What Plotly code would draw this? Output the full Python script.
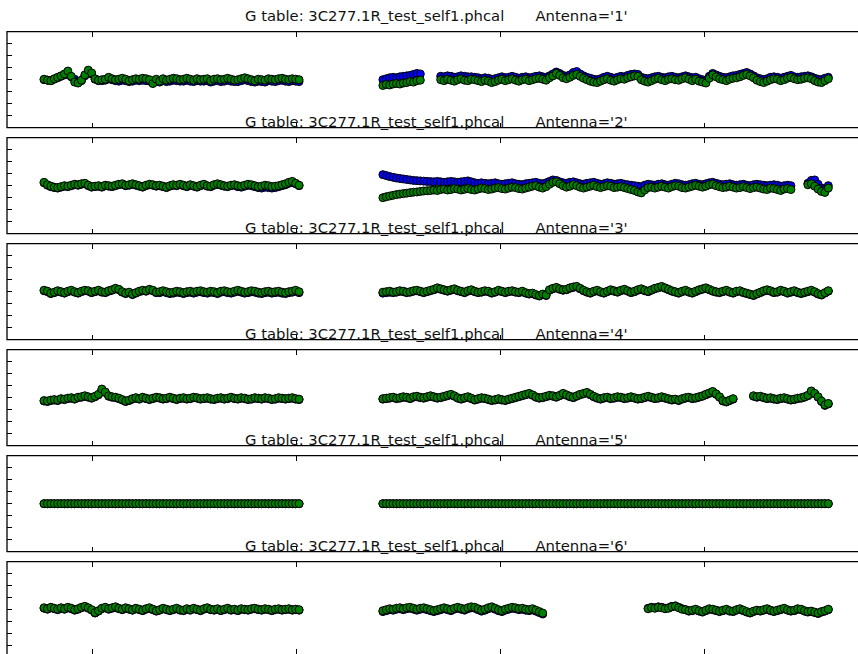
import numpy as np
import plotly.graph_objects as go

W, H = 858, 654

TABLE = "3C277.1R_test_self1.phcal"
ANTENNAS = ["1", "2", "3", "4", "5", "6"]

# time axis (hours), one solution per minute
SOLINT = 1.0 / 60.0
X_TICKS = [2, 3, 4, 5]
Y_TICKS = [-150, -100, -50, 0, 50, 100, 150]
Y_RANGE = [-200, 200]

# ---------------- Antenna 1 ----------------
a1_green_A = [2, -2, -4, 4, 10, 16, 24, 36, 14, -10,
              -14, -2, 20, 40, 28, 4, -2, 0, 2, 10,
              4, 0, 2, 6, 2, -4, 0, 4, 2, 6,
              4, 0, -16, 2, -6, 4, -2, 2, 6, 4,
              0, 2, 6, 2, -2, 4, 0, 2, 4, -4,
              2, 4, 0, 2, 6, 2, -2, 0, 4, 8,
              4, 0, -4, 2, 0, -2, 4, 2, 0, 4,
              6, 2, 0, 4, 2, 0]
a1_blue_A = [0, -2, -4, 2, 8, 14, 20, 28, 12, 2,
             -8, -4, 16, 32, 24, 2, -4, -4, -2, 4,
             0, -4, -6, -2, -4, -8, -6, -2, -4, -2,
             -4, -6, -14, -6, -10, -4, -8, -6, -2, -4,
             -6, -6, -2, -6, -8, -4, -6, -6, -4, -10,
             -6, -4, -8, -6, -2, -6, -8, -8, -4, 0,
             -4, -8, -10, -6, -8, -10, -4, -6, -8, -4,
             -2, -6, -8, -4, -6, -8]
a1_green_B1 = [-24, -20, -22, -18, -16, -18, -14, -12, -8, -10, -4, -2]
a1_blue_B1 = [0, 4, 8, 10, 8, 12, 14, 16, 18, 22, 26, 24]
a1_green_B2 = [0, -4, 2, -2, -6, 0, 4, -2, -4, 2,
               0, -4, -8, -2, -6, -12, -8, -2, 2, -4,
               0, 4, -2, -6, 0, 2, -4, 0, 4, 6,
               2, -2, 8, 16, 26, 18, 8, 4, 10, 18,
               22, 14, 6, 0, -6, -10, -12, -6, 0, 4,
               -2, -6, 0, 4, 2, 8, 12, 16, 14, 0,
               -6, -10, -4, 2, 6, 0, -4, 2, 4, 0,
               -2, 4, 8, 2, -4, 2, -6, -10, -14, 6,
               20, 12, 4, 0, -4, 2, 6, 8, 12, 18,
               22, 16, 8, -2, -8, -12, -6, 0, 4, 2,
               -4, 0, 6, 10, 4, 0, 2, 6, 8, 4,
               -4, -10, -12, -4, 4]
a1_blue_B2 = [14, 12, 16, 14, 10, 12, 16, 14, 12, 12,
              10, 8, 4, 8, 6, 2, 4, 8, 12, 8,
              10, 14, 10, 6, 10, 12, 8, 10, 14, 16,
              12, 10, 16, 24, 32, 26, 18, 14, 20, 30,
              34, 24, 16, 10, 6, 2, 0, 4, 10, 14,
              10, 6, 10, 14, 12, 18, 22, 24, 22, 10,
              6, 4, 8, 12, 14, 10, 8, 12, 14, 10,
              8, 12, 16, 12, 8, 10, 4, 0, -2, 14,
              26, 20, 14, 10, 8, 12, 16, 18, 22, 26,
              30, 24, 16, 8, 4, 0, 4, 10, 12, 10,
              6, 10, 14, 18, 12, 10, 12, 14, 16, 12,
              6, 2, 0, 6, 10]

# ---------------- Antenna 2 ----------------
a2_green_A = [14, 4, -2, -6, -8, -4, 0, -2, 2, 6,
              4, 8, 10, 2, -4, -2, 0, -4, 2, 0,
              -2, 2, 6, 8, 2, 4, 8, 4, 0, -4,
              2, 6, 4, 0, 2, -2, -6, 0, 4, 2,
              6, 2, -2, 4, 0, -4, 2, 6, 0, -2,
              4, 8, 4, 0, -2, 2, 4, 0, -2, 2,
              6, 4, 0, -4, -2, 2, 0, -4, -2, 0,
              4, 8, 14, 18, 10, 2]
a2_blue_A = [12, 2, -4, -8, -10, -6, -2, -4, 0, 4,
             2, 6, 8, 0, -6, -4, -2, -6, 0, -2,
             -4, 0, 4, 6, 0, 2, 6, 2, -2, -6,
             0, 4, 2, -2, 0, -4, -8, -2, 2, 0,
             4, 0, -4, 2, -2, -6, 0, 4, -2, -4,
             2, 6, 2, -2, -4, 0, 2, -4, -6, -2,
             2, 0, -4, -8, -10, -6, -8, -10, -8, -4,
             0, 4, 10, 14, 8, 0]
a2_green_B1 = [-50, -46, -43, -40, -37, -35, -33, -31, -29, -27,
               -26, -24, -22, -21, -20, -18, -20, -16, -14, -18,
               -16, -12, -14, -18, -15, -12, -16, -18, -14, -10,
               -12, -16, -14, -10, -8, -12, -14, -10, -6, -8,
               -12, -14, -10, -6, -2, 0, -6, -10, -4, 6,
               14, 16, 8, 0, -6, -2, 4, 0, -6, -10,
               -6, -2, 2, -4, -8, -4, 0, -2, -8, -6,
               -4, -8, -12, -16, -20, -26, -30, -18, -8, -6,
               -10, -6, -2, -6, -10, -4, 0, -2, -8, -10,
               -6, -2, 2, -2, -6, -2, 4, 6, 0, -4,
               -8, -6, -2, -6, -10, -8, -4, -8, -12, -8,
               -6, -10, -14, -16, -10, -12, -16, -20, -14, -12,
               -16]
a2_blue_B1 = [46, 42, 38, 35, 32, 30, 28, 26, 24, 22,
              21, 20, 19, 18, 17, 16, 18, 16, 14, 16,
              18, 16, 14, 16, 18, 20, 16, 12, 10, 12,
              10, 8, 10, 12, 8, 6, 8, 10, 12, 8,
              6, 4, 8, 10, 12, 14, 10, 8, 12, 18,
              24, 22, 16, 12, 10, 14, 16, 12, 8, 6,
              10, 12, 14, 10, 6, 8, 12, 10, 6, 8,
              10, 6, 4, 2, 0, -2, -4, 2, 6, 4,
              2, 6, 8, 4, 2, 6, 10, 8, 4, 2,
              4, 8, 10, 6, 4, 8, 12, 14, 10, 6,
              4, 6, 8, 4, 2, 4, 6, 2, 0, 4,
              6, 4, 2, 0, 2, 4, 2, -2, 0, 2,
              0]
a2_green_B2 = [4, 8, -2, -14, -24, -28, -10]
a2_blue_B2 = [10, 22, 24, 6, -10, -14, 0]

# ---------------- Antenna 3 ----------------
a3_green_A = [6, 2, -6, -2, 4, 0, -4, 2, 6, 0,
              -4, 2, 6, 4, -2, 2, 6, 0, -2, 4,
              8, 14, 10, 0, -6, -2, -10, -4, 2, 6,
              4, 10, 6, -2, 0, 4, 0, -4, -2, 2,
              0, -4, 0, 2, -2, 2, 4, 0, -2, 2,
              0, -4, 2, 4, 0, -2, 2, 6, 2, -2,
              0, 4, 2, -2, -4, 0, 2, -2, 0, 2,
              -2, -4, 0, 2, 6, 0]
a3_blue_A = [4, 0, -8, -4, 2, -2, -6, 0, 4, -2,
             -6, 0, 4, 2, -4, 0, 4, -2, -4, 2,
             6, 12, 8, -2, -8, -4, -12, -6, 0, 4,
             2, 8, 4, -4, -4, 0, -4, -8, -6, -2,
             -4, -8, -4, -2, -6, -2, 0, -4, -6, -2,
             -4, -8, -2, 0, -4, -6, -2, 2, -2, -6,
             -4, 0, -2, -6, -8, -4, -2, -6, -4, -2,
             -6, -8, -4, -2, 2, -4]
a3_green_B = [-2, 0, 2, -2, 0, 4, 2, -2, 0, 4,
              6, 2, -2, 2, 6, 10, 16, 12, 8, 4,
              8, 12, 6, 2, -2, 4, 8, 2, -2, 0,
              4, 2, -4, 0, 6, 2, -2, 2, 4, 0,
              -2, 2, -4, -8, -6, -12, -16, -10, -14, 8,
              14, 18, 12, 8, 10, 16, 20, 22, 14, 6,
              0, -4, 2, 6, 0, -4, 2, 8, 4, 0,
              6, 10, 4, -2, 2, 8, 12, 6, 2, 8,
              14, 18, 22, 16, 10, 4, 0, -4, 2, 6,
              0, -4, 2, 8, 12, 16, 10, 4, 0, -2,
              2, 6, 0, -4, 2, 4, -2, -6, -10, -14,
              -8, -2, 4, 8, 4, -2, 0, 6, 2, -4,
              0, 4, -2, -6, -2, 2, 6, 0, -8, -12,
              -4, 4]
a3_blue_B = [-6, -4, -2, -4, -2, 2, 0, -4, -2, 2,
             4, 0, -4, 0, 4, 8, 14, 10, 6, 2,
             6, 10, 4, 0, -4, 2, 6, 0, -4, -2,
             2, 0, -6, -2, 4, 0, -4, 0, 2, -2,
             -4, 0, -6, -10, -8, -14, -18, -12, -16, 6,
             12, 16, 10, 6, 8, 14, 18, 20, 12, 4,
             -2, -6, 0, 4, -2, -6, 0, 6, 2, -2,
             4, 8, 2, -4, 0, 6, 10, 4, 0, 6,
             12, 16, 20, 14, 8, 2, -2, -6, 0, 4,
             -2, -6, 0, 6, 10, 14, 8, 2, -2, -4,
             0, 4, -2, -6, 0, 2, -4, -8, -12, -16,
             -10, -4, 2, 6, 2, -4, -2, 4, 0, -6,
             -2, 2, -4, -8, -4, 0, 4, -2, -10, -14,
             -6, 2]

# ---------------- Antenna 4 ----------------
a4_green_A = [-12, -14, -10, -8, -10, -4, -6, -2, 0, -4,
              2, 4, 8, 4, 0, 6, 14, 36, 24, 8,
              4, 2, -2, -8, -14, -10, -4, 0, -4, 2,
              -2, -6, -2, 2, 0, -4, -2, 2, -2, -6,
              -2, 0, -4, -2, 2, 0, -4, -2, 0, -4,
              -6, -2, 0, -4, -2, 2, -2, -4, 0, -2,
              -6, -4, 0, -2, -4, 0, -2, -6, -4, 0,
              -2, -4, -2, 0, -4, -6]
a4_blue_A = [-14, -16, -12, -10, -12, -6, -8, -4, -2, -6,
             0, 2, 6, 2, -2, 4, 12, 32, 22, 6,
             2, 0, -4, -10, -16, -12, -6, -2, -6, 0,
             -4, -8, -4, 0, -2, -6, -4, 0, -4, -8,
             -4, -2, -6, -4, 0, -2, -6, -4, -2, -6,
             -8, -4, -2, -6, -4, 0, -4, -6, -2, -4,
             -8, -6, -2, -4, -6, -2, -4, -8, -6, -2,
             -4, -6, -4, -2, -6, -8]
a4_green_B1 = [-4, -2, 0, 2, -2, 0, 4, 2, -2, 4,
               6, 2, 0, 4, 8, 4, 0, 2, 6, 10,
               14, 8, 0, -4, 0, 4, -2, -8, -4, 0,
               -2, -6, -10, -8, -4, -8, -10, -6, -2, 2,
               6, 10, 14, 18, 12, 4, 0, 2, 6, 10,
               8, 4, 10, 18, 12, 6, 2, 8, 14, 18,
               22, 14, 6, 0, -4, 0, 2, -2, 0, 4,
               2, -2, 0, 4, 0, -4, -2, 2, 6, 2,
               -2, 0, 4, 0, -4, -8, -6, -10, -4, 0,
               2, -2, 0, 4, 8, 14, 20, 26, 16, 4,
               -12, -16, -10, -4]
a4_blue_B1 = [-6, -4, -2, 0, -4, -2, 2, 0, -4, 2,
              4, 0, -2, 2, 6, 2, -2, 0, 4, 8,
              12, 6, -2, -6, -2, 2, -4, -10, -6, -2,
              -4, -8, -12, -10, -6, -10, -12, -8, -4, 0,
              4, 8, 12, 16, 10, 2, -2, 0, 4, 8,
              6, 2, 8, 16, 10, 4, 0, 6, 12, 16,
              20, 12, 4, -2, -6, -2, 0, -4, -2, 2,
              0, -4, -2, 2, -2, -6, -4, 0, 4, 0,
              -4, -2, 2, -2, -6, -10, -8, -12, -6, -2,
              0, -4, -2, 2, 6, 12, 18, 24, 14, 2,
              -14, -18, -12, -6]
a4_green_B2 = [8, 4, 6, 2, -2, 0, -4, -6, -2, 0,
               -4, -8, -6, -2, 0, 4, 10, 28, 18, 4,
               -14, -30, -24]
a4_blue_B2 = [6, 2, 4, 0, -4, -2, -6, -8, -4, -2,
              -6, -10, -8, -4, -2, 2, 8, 26, 16, 2,
              -16, -32, -26]

# ---------------- Antenna 5 (reference antenna: zero phase) ----------------
a5_green_A = [0] * 76
a5_blue_A = [0] * 76
a5_green_B = [0] * 132
a5_blue_B = [0] * 132

# ---------------- Antenna 6 ----------------
a6_green_A = [8, 4, 10, 6, 2, 8, 4, 10, 6, 0,
              4, 10, 14, 8, 0, -12, -4, 6, 10, 4,
              8, 12, 6, 2, 8, 4, 0, 6, 2, -2,
              4, 8, 2, -4, 0, 6, 2, -2, 2, 6,
              0, -2, 4, 0, 6, 2, -2, 4, 8, 2,
              0, 4, -2, 2, 6, 0, 2, -2, 4, 2,
              0, 4, 6, 2, 0, 4, 2, -2, 2, 4,
              0, 2, 4, 0, 2, 0]
a6_blue_A = [6, 2, 8, 4, 0, 6, 2, 8, 4, -2,
             2, 8, 12, 6, -2, -14, -6, 4, 8, 2,
             6, 10, 4, 0, 6, 2, -2, 4, 0, -4,
             2, 6, 0, -6, -2, 4, 0, -4, 0, 4,
             -2, -4, 2, -2, 4, 0, -4, 2, 6, 0,
             -2, 2, -4, 0, 4, -2, 0, -4, 2, 0,
             -2, 2, 4, 0, -2, 2, 0, -4, 0, 2,
             -2, 0, 2, -2, 0, -2]
a6_green_B1 = [-4, 0, 4, 2, 6, 8, 4, 8, 10, 6,
               2, 6, 8, 4, 0, -4, 0, 4, 8, 4,
               0, 6, 10, 6, 2, 8, 12, 10, 4, -2,
               2, 8, 12, 6, 0, -4, 2, 6, 10, 8,
               4, 6, 2, 0, 4, -2, -8, -14]
a6_blue_B1 = [-8, -4, 0, -2, 2, 4, 0, 4, 6, 2,
              -2, 2, 4, 0, -4, -8, -4, 0, 4, 0,
              -4, 2, 6, 2, -2, 4, 8, 6, 0, -6,
              -2, 4, 8, 2, -4, -8, -2, 2, 6, 4,
              0, 2, -2, -4, 0, -6, -12, -18]
a6_green_B2 = [4, 8, 6, 10, 8, 4, 6, 12, 14, 8,
               2, 0, -4, -2, 2, -4, -8, -2, 4, 2,
               -2, -6, -2, 2, -4, -6, 0, 4, -2, -8,
               -12, -6, -2, -4, 0, 4, -2, -6, -2, 2,
               6, 0, -4, -2, 4, 2, -4, -8, -6, -10,
               -14, -8, -4, 2]
a6_blue_B2 = [6, 10, 8, 12, 10, 6, 8, 14, 16, 10,
              4, 0, -6, -4, 0, -6, -10, -4, 2, 0,
              -4, -8, -4, 0, -6, -8, -2, 2, -4, -10,
              -14, -8, -4, -6, -2, 2, -4, -8, -4, 0,
              4, -2, -6, -4, 2, 0, -6, -10, -8, -12,
              -16, -10, -6, 0]

# scan start times (hours) of each stretch of unflagged solutions
a1_starts = [1.765, 3.426, 3.7093]
a2_starts = [1.765, 3.426, 5.5093]
a3_starts = [1.765, 3.426]
a4_starts = [1.765, 3.426, 5.2427]
a5_starts = [1.765, 3.426]
a6_starts = [1.765, 3.426, 4.726]

panels = [
    (a1_starts, [a1_blue_A, a1_blue_B1, a1_blue_B2], [a1_green_A, a1_green_B1, a1_green_B2]),
    (a2_starts, [a2_blue_A, a2_blue_B1, a2_blue_B2], [a2_green_A, a2_green_B1, a2_green_B2]),
    (a3_starts, [a3_blue_A, a3_blue_B], [a3_green_A, a3_green_B]),
    (a4_starts, [a4_blue_A, a4_blue_B1, a4_blue_B2], [a4_green_A, a4_green_B1, a4_green_B2]),
    (a5_starts, [a5_blue_A, a5_blue_B], [a5_green_A, a5_green_B]),
    (a6_starts, [a6_blue_A, a6_blue_B1, a6_blue_B2], [a6_green_A, a6_green_B1, a6_green_B2]),
]

# ---------------- layout geometry (pixels) ----------------
LEFT_PX, RIGHT_PX = 7, 862
TOP0_PX, STEP_PX, PANEL_H_PX = 31.7, 106, 96
X_PX_PER_HOUR = 204.0
X_TICK_PX = 92.0
x_left = X_TICKS[0] - (X_TICK_PX - LEFT_PX) / X_PX_PER_HOUR
x_right = X_TICKS[0] + (W - X_TICK_PX) / X_PX_PER_HOUR


def build_xy(starts, segs):
    xs, ys = [], []
    for t0, vals in zip(starts, segs):
        t = t0 + np.arange(len(vals)) * SOLINT
        xs.extend(t.tolist() + [None])
        ys.extend(list(vals) + [None])
    return xs, ys


fig = go.Figure()
layout = dict(
    width=W, height=H,
    margin=dict(l=0, r=0, t=0, b=0),
    paper_bgcolor="white", plot_bgcolor="white",
    showlegend=False,
    font=dict(family="DejaVu Sans", size=14.8, color="black"),
    shapes=[], annotations=[],
)

for k, (starts, blue_segs, green_segs) in enumerate(panels):
    sfx = "" if k == 0 else str(k + 1)
    xa, ya = "x" + sfx, "y" + sfx
    top_px = TOP0_PX + STEP_PX * k
    bot_px = top_px + PANEL_H_PX
    y_top = 1 - top_px / H
    y_bot = 1 - bot_px / H
    yr = list(Y_RANGE)
    dom_bot = y_bot
    if y_bot < 0:
        dom_bot = 0.0
        yr[0] = Y_RANGE[0] + (bot_px - H) / PANEL_H_PX * (Y_RANGE[1] - Y_RANGE[0])

    for segs, col in ((blue_segs, "#0000ff"), (green_segs, "#008000")):
        xs, ys = build_xy(starts, segs)
        fig.add_trace(go.Scatter(
            x=xs, y=ys, mode="markers", xaxis=xa, yaxis=ya,
            marker=dict(color=col, size=8, line=dict(color="black", width=1)),
            hoverinfo="skip", cliponaxis=False,
        ))

    layout["xaxis" + sfx] = dict(
        domain=[LEFT_PX / W, 1], range=[x_left, x_right], anchor=ya,
        tickvals=X_TICKS, ticks="inside", ticklen=5, tickwidth=1, tickcolor="black",
        showticklabels=False, showgrid=False, zeroline=False,
        showline=False, mirror="ticks",
    )
    layout["yaxis" + sfx] = dict(
        domain=[dom_bot, y_top], range=yr, anchor=xa,
        tickvals=Y_TICKS, ticks="inside", ticklen=5, tickwidth=1, tickcolor="black",
        showticklabels=False, showgrid=False, zeroline=False, showline=False,
    )
    layout["shapes"].append(dict(
        type="rect", xref="paper", yref="paper",
        x0=LEFT_PX / W, x1=RIGHT_PX / W, y0=y_bot, y1=y_top,
        line=dict(color="black", width=1.3), fillcolor="rgba(0,0,0,0)", layer="above",
    ))
    layout["annotations"].append(dict(
        xref="paper", yref="paper", x=436 / W, y=1 - (top_px - 16) / H,
        xanchor="center", yanchor="middle", showarrow=False,
        text="G table: " + TABLE + "\u00a0" * 6 + "\u2009" + "Antenna='" + ANTENNAS[k] + "'",
        font=dict(family="DejaVu Sans", size=14.8, color="#111111"),
    ))

fig.update_layout(**layout)
fig.write_html(
    "out.html",
    config={"displayModeBar": False},
    post_script="document.body.style.margin='0';document.body.style.padding='0';"
                "document.body.style.overflow='hidden';"
                "document.documentElement.style.overflow='hidden';",
)
